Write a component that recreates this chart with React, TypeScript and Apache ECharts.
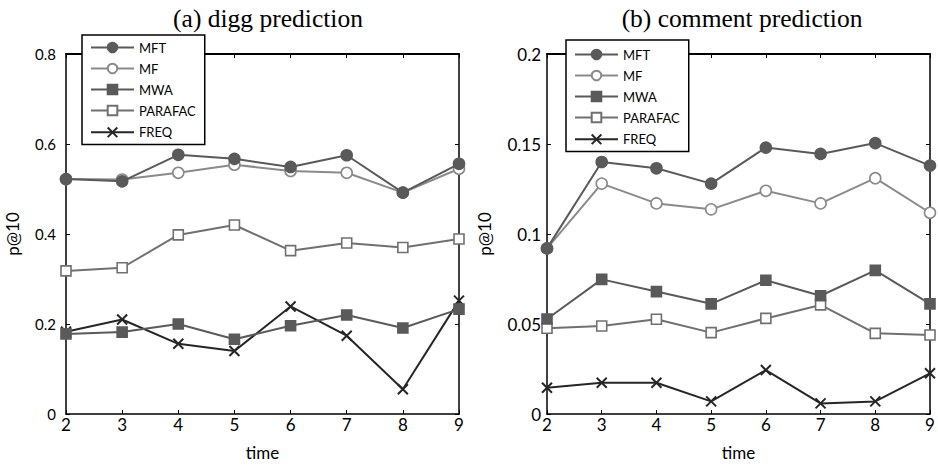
import React, { useEffect, useRef } from "react";
import * as echarts from "echarts";

const times = [2, 3, 4, 5, 6, 7, 8, 9];
const seriesNames = ["MFT", "MF", "MWA", "PARAFAC", "FREQ"];

// (a) digg prediction
const diggMFT = [0.522, 0.517, 0.576, 0.567, 0.549, 0.575, 0.492, 0.556];
const diggMF = [0.522, 0.521, 0.536, 0.554, 0.540, 0.536, 0.492, 0.545];
const diggMWA = [0.178, 0.182, 0.200, 0.166, 0.196, 0.220, 0.191, 0.233];
const diggPARAFAC = [0.318, 0.325, 0.398, 0.420, 0.363, 0.380, 0.370, 0.389];
const diggFREQ = [0.183, 0.210, 0.156, 0.140, 0.239, 0.174, 0.055, 0.252];

// (b) comment prediction
const commMFT = [0.092, 0.140, 0.1365, 0.128, 0.148, 0.1445, 0.1505, 0.138];
const commMF = [0.092, 0.128, 0.117, 0.1137, 0.124, 0.117, 0.131, 0.1118];
const commMWA = [0.0528, 0.0748, 0.068, 0.0612, 0.0743, 0.0657, 0.0798, 0.0612];
const commPARAFAC = [0.0476, 0.0489, 0.0526, 0.0452, 0.0531, 0.0606, 0.0448, 0.0439];
const commFREQ = [0.0146, 0.0174, 0.0174, 0.007, 0.0244, 0.0059, 0.007, 0.0226];

const leftTicks = ["0", "0.2", "0.4", "0.6", "0.8"];
const rightTicks = ["0", "0.05", "0.1", "0.15", "0.2"];

const FONT = "Lato";
const XPATH = "path://M0,0 L10,10 M10,0 L0,10";

const styles: Record<string, any> = {
  MFT: { color: "#5a5a5a", symbol: "circle", fill: "#5a5a5a" },
  MF: { color: "#8a8a8a", symbol: "circle", fill: "#ffffff" },
  MWA: { color: "#5a5a5a", symbol: "rect", fill: "#5a5a5a" },
  PARAFAC: { color: "#707070", symbol: "rect", fill: "#ffffff" },
  FREQ: { color: "#262626", symbol: XPATH, fill: "none" },
};

function makeSeries(name: string, vals: number[], idx: number) {
  const s = styles[name];
  return {
    type: "line",
    name,
    xAxisIndex: idx * 2,
    yAxisIndex: idx * 2,
    data: times.map((t, i) => [t, vals[i]]),
    symbol: s.symbol,
    symbolSize: name === "FREQ" ? 10 : s.symbol === "rect" ? 10 : 11,
    lineStyle: { color: s.color, width: 2 },
    itemStyle: { color: s.fill, borderColor: s.color, borderWidth: name === "FREQ" ? 2 : 1.6 },
    emphasis: { disabled: true },
    z: 10 - seriesNames.indexOf(name),
  };
}

export default function App() {
  const ref = useRef<HTMLDivElement>(null);
  useEffect(() => {
    document.body.style.margin = "0";
    const chart = echarts.init(ref.current!, null, { renderer: "svg" });
    const grids = [
      { left: 66, top: 54, width: 393, height: 360 },
      { left: 547, top: 54, width: 383, height: 360 },
    ];
    const yMax = [0.8, 0.2];
    const yInt = [0.2, 0.05];
    const tickLbls = [leftTicks, rightTicks];
    const yLblSize = [15, 17];
    const yLblMargin = [10, 6];
    const yNameGap = [45, 54];
    const axisLine = (w = 1.5) => ({ show: true, onZero: false, lineStyle: { color: "#000", width: w } });
    const axisTick = () => ({ show: true, inside: true, length: 4, lineStyle: { color: "#000" } });
    const xAxes: any[] = [];
    const yAxes: any[] = [];
    [0, 1].forEach((g) => {
      xAxes.push({
        type: "value", gridIndex: g, min: 2, max: 9, interval: 1, position: "bottom",
        name: "time", nameLocation: "middle", nameGap: 30,
        nameTextStyle: { fontFamily: FONT, fontSize: 17, color: "#000" },
        axisLine: axisLine(), axisTick: axisTick(),
        axisLabel: { fontFamily: FONT, fontSize: 17, color: "#000", margin: 2 },
        splitLine: { show: false },
      });
      xAxes.push({
        type: "value", gridIndex: g, min: 2, max: 9, interval: 1, position: "top",
        axisLine: axisLine(2), axisTick: axisTick(),
        axisLabel: { show: false }, splitLine: { show: false },
      });
      yAxes.push({
        type: "value", gridIndex: g, min: 0, max: yMax[g], interval: yInt[g], position: "left",
        name: "p@10", nameLocation: "middle", nameGap: yNameGap[g], nameRotate: 90,
        nameTextStyle: { fontFamily: FONT, fontSize: 17, color: "#000" },
        axisLine: axisLine(), axisTick: axisTick(),
        axisLabel: {
          fontFamily: FONT, fontSize: yLblSize[g], color: "#000", margin: yLblMargin[g],
          formatter: (v: number) => {
            const i = Math.round(v / yInt[g]);
            return tickLbls[g][i] ?? "";
          },
        },
        splitLine: { show: false },
      });
      yAxes.push({
        type: "value", gridIndex: g, min: 0, max: yMax[g], interval: yInt[g], position: "right",
        axisLine: axisLine(), axisTick: axisTick(),
        axisLabel: { show: false }, splitLine: { show: false },
      });
    });
    const legendData = seriesNames.map((n) => ({ name: n }));
    const legendCommon = {
      orient: "vertical",
      itemWidth: 43,
      itemHeight: 12,
      itemGap: 8,
      backgroundColor: "#fff",
      borderColor: "#000",
      borderWidth: 1.5,
      textStyle: { fontFamily: FONT, fontSize: 13, color: "#000" },
      data: legendData,
      z: 20,
    };
    const titleStyle = { fontFamily: "Liberation Serif", fontSize: 25.5, fontWeight: "normal", color: "#000" };
    chart.setOption({
      animation: false,
      backgroundColor: "#fff",
      title: [
        { text: "(a) digg prediction", left: 263, top: 0, textAlign: "center", textStyle: titleStyle },
        { text: "(b) comment prediction", left: 737, top: 0, textAlign: "center", textStyle: titleStyle },
      ],
      legend: [
        { ...legendCommon, left: 82, top: 35, padding: [6, 9, 5, 8] },
        { ...legendCommon, left: 566, top: 40, padding: [8, 9, 5, 8] },
      ],
      grid: grids,
      xAxis: xAxes,
      yAxis: yAxes,
      series: [
        makeSeries("MFT", diggMFT, 0),
        makeSeries("MF", diggMF, 0),
        makeSeries("MWA", diggMWA, 0),
        makeSeries("PARAFAC", diggPARAFAC, 0),
        makeSeries("FREQ", diggFREQ, 0),
        makeSeries("MFT", commMFT, 1),
        makeSeries("MF", commMF, 1),
        makeSeries("MWA", commMWA, 1),
        makeSeries("PARAFAC", commPARAFAC, 1),
        makeSeries("FREQ", commFREQ, 1),
      ],
    });
    return () => chart.dispose();
  }, []);
  return <div ref={ref} style={{ width: 938, height: 466 }} />;
}
